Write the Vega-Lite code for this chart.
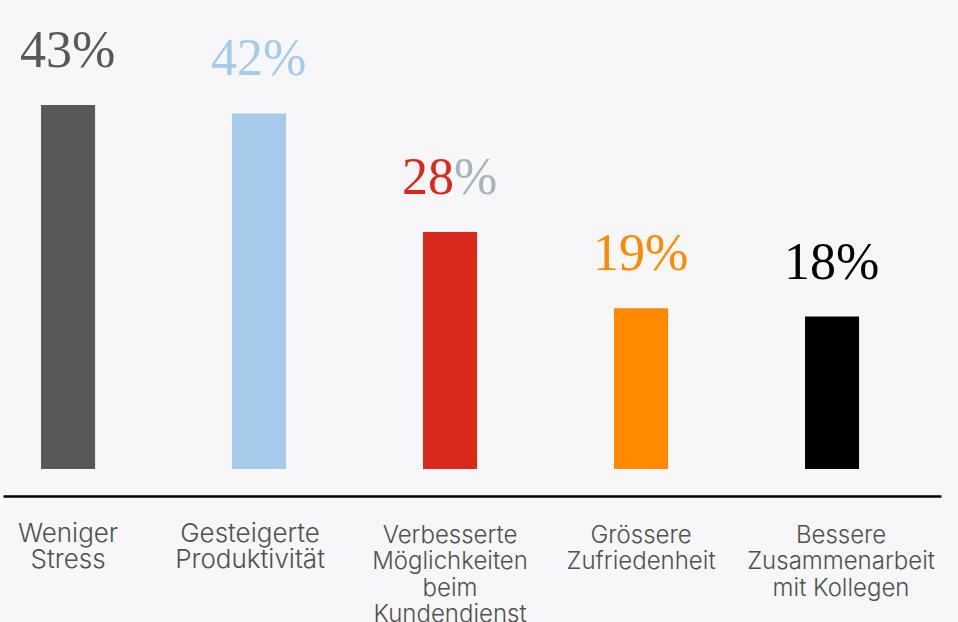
{
  "$schema": "https://vega.github.io/schema/vega-lite/v6.json",
  "width": 938,
  "height": 469,
  "padding": {"left": 3, "top": 0, "right": 17, "bottom": 0},
  "background": "#f7f7f9",
  "config": {"view": {"stroke": null}},
  "data": {
    "values": [
      {"cat": "Weniger|Stress", "value": 43},
      {"cat": "Gesteigerte|Produktivität", "value": 42},
      {"cat": "Verbesserte|Möglichkeiten|beim|Kundendienst", "value": 28},
      {"cat": "Grössere|Zufriedenheit", "value": 19},
      {"cat": "Bessere|Zusammenarbeit|mit Kollegen", "value": 18}
    ]
  },
  "encoding": {
    "x": {
      "field": "cat",
      "type": "nominal",
      "sort": null,
      "scale": {"paddingInner": 0.717, "paddingOuter": 0.314, "align": 0.317},
      "axis": {
        "title": null,
        "orient": "bottom",
        "offset": 27,
        "domainColor": "#000000",
        "domainWidth": 2.5,
        "ticks": false,
        "labelAngle": 0,
        "labelFont": "Inter",
        "labelFontWeight": 300,
        "labelColor": "#505050",
        "labelFontSize": {"condition": {"test": "indexof(datum.value, 'Weniger') >= 0 || indexof(datum.value, 'Gesteigerte') >= 0", "value": 26}, "value": 24},
        "labelPadding": {"condition": {"test": "indexof(datum.value, 'Weniger') >= 0 || indexof(datum.value, 'Gesteigerte') >= 0", "value": 24}, "value": 27},
        "labelOffset": {"condition": [{"test": "indexof(datum.value, 'Gesteigerte') >= 0", "value": -9}, {"test": "indexof(datum.value, 'Bessere') == 0", "value": 9}], "value": 0},
        "labelLineHeight": 26.5,
        "labelBaseline": "top",
        "labelLimit": 0,
        "labelOverlap": false,
        "labelExpr": "split(datum.label, '|')"
      }
    },
    "y": {
      "field": "value",
      "type": "quantitative",
      "scale": {"domain": [0, 55.4], "nice": false},
      "axis": null
    }
  },
  "layer": [
    {
      "mark": {"type": "bar"},
      "encoding": {
        "color": {
          "field": "cat",
          "type": "nominal",
          "scale": {
            "domain": ["Weniger|Stress", "Gesteigerte|Produktivität", "Verbesserte|Möglichkeiten|beim|Kundendienst", "Grössere|Zufriedenheit", "Bessere|Zusammenarbeit|mit Kollegen"],
            "range": ["#58585a", "#a6cbea", "#d9291c", "#ff8a00", "#000000"]
          },
          "legend": null
        }
      }
    },
    {
      "mark": {"type": "text", "align": "right", "baseline": "alphabetic", "dx": 4, "dy": -38, "font": "Liberation Serif", "fontSize": 52},
      "encoding": {
        "text": {"field": "value", "type": "quantitative"},
        "color": {
          "field": "cat",
          "type": "nominal",
          "scale": {
            "domain": ["Weniger|Stress", "Gesteigerte|Produktivität", "Verbesserte|Möglichkeiten|beim|Kundendienst", "Grössere|Zufriedenheit", "Bessere|Zusammenarbeit|mit Kollegen"],
            "range": ["#58585a", "#a6cbea", "#d9291c", "#ff8a00", "#000000"]
          },
          "legend": null
        }
      }
    },
    {
      "mark": {"type": "text", "align": "left", "baseline": "alphabetic", "dx": 4, "dy": -38, "font": "Liberation Serif", "fontSize": 52},
      "encoding": {
        "text": {"value": "%"},
        "color": {
          "field": "cat",
          "type": "nominal",
          "scale": {
            "domain": ["Weniger|Stress", "Gesteigerte|Produktivität", "Verbesserte|Möglichkeiten|beim|Kundendienst", "Grössere|Zufriedenheit", "Bessere|Zusammenarbeit|mit Kollegen"],
            "range": ["#58585a", "#a6cbea", "#a9b1b9", "#ff8a00", "#000000"]
          },
          "legend": null
        }
      }
    }
  ],
  "resolve": {"scale": {"color": "independent"}}
}
